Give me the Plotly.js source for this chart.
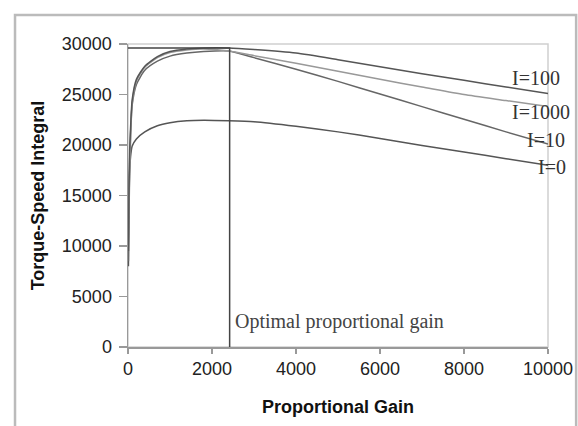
<!DOCTYPE html>
<html>
<head>
<meta charset="utf-8">
<script src="https://cdn.plot.ly/plotly-3.0.1.min.js"></script>
<style>html,body{margin:0;padding:0;background:#fff;}#chart{width:578px;height:426px;}</style>
</head>
<body>
<div id="chart"></div>
<script>
// Proportional gain samples
var gain = [10, 20, 40, 70, 100, 200, 400, 700, 1000, 1400, 1800, 2400, 3000, 4000, 5000, 6000, 7000, 8000, 9000, 10000];
// Torque-speed integral for each integral gain I
var seriesI0    = [8000, 13000, 17500, 19200, 19900, 20600, 21300, 21900, 22200, 22400, 22450, 22400, 22300, 21850, 21300, 20650, 19950, 19300, 18650, 18000];
var seriesI10   = [8500, 13500, 18500, 22000, 24000, 26000, 27400, 28300, 28800, 29100, 29250, 29300, 28650, 27500, 26300, 25050, 23800, 22550, 21300, 20100];
var seriesI100  = [9500, 14000, 19500, 22500, 24500, 26500, 27800, 28750, 29250, 29500, 29600, 29600, 29450, 29100, 28450, 27750, 27050, 26400, 25750, 25100];
var seriesI1000 = [11000, 12500, 17000, 21500, 24200, 26300, 27700, 28650, 29150, 29400, 29500, 29300, 28850, 28100, 27300, 26500, 25750, 25000, 24400, 23800];
var seriesNames = ["I=0", "I=10", "I=100", "I=1000"];
// Optimal point
var optimalGain = 2420;
var optimalValue = 29600;
// Axis ticks
var xTicks = [0, 2000, 4000, 6000, 8000, 10000];
var yTicks = [0, 5000, 10000, 15000, 20000, 25000, 30000];

function curve(y, name, color) {
  return {x: gain, y: y, name: name, type: 'scatter', mode: 'lines',
          line: {color: color, width: 1.5, shape: 'spline', smoothing: 0.6},
          hoverinfo: 'skip', cliponaxis: true};
}
var traces = [
  curve(seriesI0, seriesNames[0], '#555'),
  curve(seriesI10, seriesNames[1], '#666'),
  curve(seriesI1000, seriesNames[3], '#999'),
  curve(seriesI100, seriesNames[2], '#555'),
  {x: [0, optimalGain, optimalGain], y: [optimalValue, optimalValue, 0], type: 'scatter', mode: 'lines',
   line: {color: '#444', width: 1.5}, hoverinfo: 'skip', name: 'optimal'}
];

var serif = 'Liberation Serif, Times New Roman, serif';
var sans = 'Liberation Sans, Arial, sans-serif';
function lab(text, x, y) {
  return {text: text, x: x, y: y, xref: 'paper', yref: 'paper', showarrow: false,
          font: {family: serif, size: 20, color: '#333'}, xanchor: 'center', yanchor: 'middle'};
}
var layout = {
  width: 578, height: 426,
  margin: {l: 128, r: 30, t: 44, b: 79},
  paper_bgcolor: '#fff', plot_bgcolor: '#fff',
  showlegend: false,
  font: {family: sans, size: 18, color: '#222'},
  xaxis: {range: [0, 10000], tickvals: xTicks, ticktext: xTicks.map(String),
          showgrid: false, zeroline: false, showline: true, linecolor: '#999', linewidth: 1.5,
          ticks: 'outside', ticklen: 5, tickcolor: '#999', tickwidth: 1.5,
          tickfont: {family: sans, size: 18, color: '#222'},
          title: {text: 'Proportional Gain', standoff: 22, font: {family: sans, size: 18, color: '#111', weight: 'bold'}},
          automargin: false, fixedrange: true},
  yaxis: {range: [0, 30000], tickvals: yTicks, ticktext: yTicks.map(String),
          showgrid: false, zeroline: false, showline: true, linecolor: '#999', linewidth: 1.5,
          ticks: 'outside', ticklen: 8, tickcolor: '#999', tickwidth: 1.5, ticklabelstandoff: 3,
          tickfont: {family: sans, size: 18, color: '#222'},
          title: {text: 'Torque-Speed Integral', standoff: 12, font: {family: sans, size: 18, color: '#111', weight: 'bold'}},
          automargin: false, fixedrange: true},
  shapes: [
    {type: 'rect', xref: 'paper', yref: 'paper', x0: 0, x1: 1, y0: 0, y1: 1,
     line: {color: '#d0d0d0', width: 1.5}, layer: 'below'},
    {type: 'rect', xref: 'paper', yref: 'paper', x0: -0.269, x1: 1.067, y0: -0.35, y1: 1.096,
     line: {color: '#bbb', width: 2.5}, layer: 'below'}
  ],
  annotations: [
    lab('I=100', 0.971, 0.888),
    lab('I=1000', 0.983, 0.777),
    lab('I=10', 0.995, 0.683),
    lab('I=0', 1.010, 0.595),
    {text: 'Optimal proportional gain', x: 2505, y: 2545, xref: 'x', yref: 'y', showarrow: false,
     xanchor: 'left', yanchor: 'middle', font: {family: serif, size: 20, color: '#444'}}
  ]
};
Plotly.newPlot('chart', traces, layout, {displayModeBar: false, staticPlot: true});
</script>
</body>
</html>
